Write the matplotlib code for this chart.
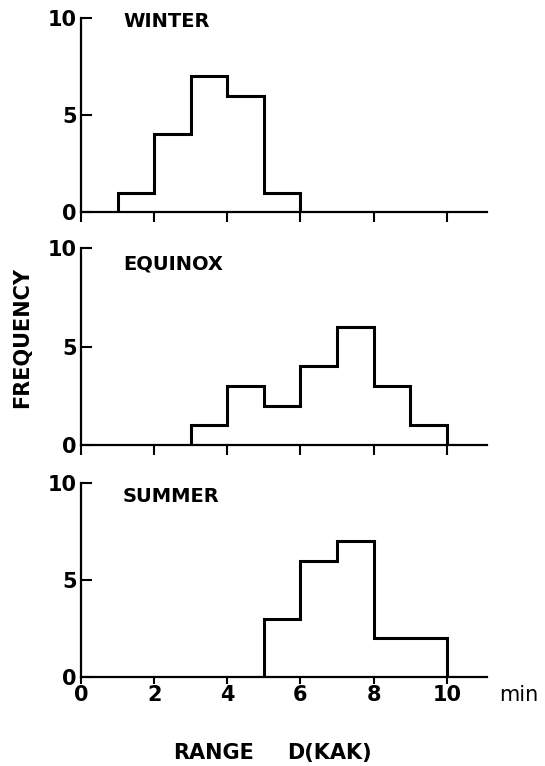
import matplotlib
matplotlib.use("Agg")
from matplotlib import pyplot as plt

# range D(KAK) histograms, counts per 1-min bin
winter_edges = [1, 2, 3, 4, 5, 6]
winter_counts = [1, 4, 7, 6, 1]

equinox_edges = [3, 4, 5, 6, 7, 8, 9, 10]
equinox_counts = [1, 3, 2, 4, 6, 3, 1]

summer_edges = [5, 6, 7, 8, 9, 10]
summer_counts = [3, 6, 7, 2, 2]

panel_names = ['WINTER', 'EQUINOX', 'SUMMER']
x_ticks = [0, 2, 4, 6, 8, 10]
y_ticks = [0, 5, 10]

plt.rcParams['font.family'] = ['DejaVu Sans']
plt.rcParams['font.weight'] = 'bold'

fig = plt.figure(figsize=(5.45, 7.66), dpi=100)

# axes boxes in figure fractions (left, bottom, width, height)
boxes = [[0.1486, 0.7232, 0.745, 0.2533],
         [0.1486, 0.4191, 0.745, 0.2570],
         [0.1486, 0.1162, 0.745, 0.2533]]
name_y = [9.8, 9.2, 9.3]

data = [(winter_edges, winter_counts),
        (equinox_edges, equinox_counts),
        (summer_edges, summer_counts)]

for i in range(3):
    ax = fig.add_axes(boxes[i])
    edges, counts = data[i]
    ax.stairs(counts, edges, baseline=0, color='black', linewidth=2.2)
    ax.set_xlim(0, 11.1)
    ax.set_ylim(0, 10)
    ax.spines['top'].set_visible(False)
    ax.spines['right'].set_visible(False)
    ax.spines['left'].set_linewidth(1.6)
    ax.spines['bottom'].set_linewidth(1.6)
    ax.set_yticks(y_ticks)
    ax.set_yticklabels([str(v) for v in y_ticks], fontsize=15)
    ax.tick_params(axis='y', direction='in', length=8, width=1.5, pad=3)
    ax.set_xticks(x_ticks)
    if i == 2:
        ax.set_xticklabels([str(v) for v in x_ticks], fontsize=15)
        ax.tick_params(axis='x', direction='out', length=5, width=1.5, pad=1)
    else:
        ax.set_xticklabels([])
        ax.tick_params(axis='x', direction='out', length=7, width=1.5)
    ax.text(1.15, name_y[i], panel_names[i], fontsize=14, va='center', ha='left')
    if i == 2:
        ax.text(1.03, -0.095, 'min', transform=ax.transAxes,
                fontsize=15, fontweight='normal', va='center', ha='left')

fig.text(0.04, 0.559, 'FREQUENCY', rotation=90, fontsize=15,
         va='center', ha='center')
fig.text(0.317, 0.017, 'RANGE', fontsize=15, va='center', ha='left')
fig.text(0.527, 0.017, 'D(KAK)', fontsize=15, va='center', ha='left')

fig.savefig('out.png', dpi=100)
